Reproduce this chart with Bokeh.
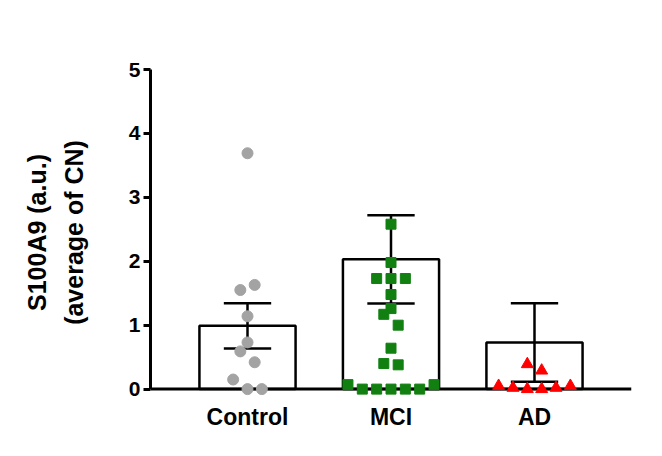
from bokeh.plotting import figure
from bokeh.models import Range1d, FixedTicker, Span
from bokeh.embed import file_html
from bokeh.resources import INLINE

# ---- data ----
categories = ["Control", "MCI", "AD"]
bar_means = [0.99, 2.03, 0.73]
bar_errors = [0.355, 0.69, 0.615]

control_values = [3.69, 1.55, 1.63, 1.14, 0.73, 0.59, 0.42, 0.15, 0.0, 0.0]
control_jitter = [0.0, -0.05, 0.05, 0.0, 0.0, -0.05, 0.05, -0.1, 0.0, 0.1]

mci_values = [2.58, 1.98, 1.73, 1.73, 1.73, 1.48, 1.26, 1.17, 1.0, 0.64, 0.40, 0.38,
              0.07, 0.0, 0.0, 0.0, 0.0, 0.0, 0.07]
mci_jitter = [0.0, 0.0, -0.1, 0.0, 0.1, 0.0, 0.0, -0.05, 0.05, 0.0, -0.05, 0.05,
              -0.3, -0.2, -0.1, 0.0, 0.1, 0.2, 0.3]

ad_values = [0.39, 0.29, 0.05, 0.02, 0.0, 0.0, 0.02, 0.05]
ad_jitter = [-0.05, 0.05, -0.25, -0.15, -0.05, 0.05, 0.15, 0.25]

y_ticks = [0, 1, 2, 3, 4, 5]

FONT = "Liberation Sans"

xpos = list(range(len(categories)))

p = figure(width=646, height=440, output_backend="svg", toolbar_location=None,
           x_range=Range1d(-0.676, 2.676), y_range=Range1d(-0.1, 5.0),
           min_border_left=150, min_border_right=15, min_border_top=69,
           min_border_bottom=45)
p.outline_line_color = None
p.xgrid.visible = False
p.ygrid.visible = False
p.background_fill_color = "white"
p.border_fill_color = "white"

# bars
p.vbar(x=xpos, top=bar_means, width=0.67, bottom=0, fill_color="white",
       line_color="black", line_width=2.5)

# error bars
lo = [m - e for m, e in zip(bar_means, bar_errors)]
hi = [m + e for m, e in zip(bar_means, bar_errors)]
p.segment(x0=xpos, y0=lo, x1=xpos, y1=hi, line_color="black", line_width=2.5)
cap = 0.165
p.segment(x0=[x - cap for x in xpos], y0=hi, x1=[x + cap for x in xpos], y1=hi,
          line_color="black", line_width=2.5)
p.segment(x0=[x - cap for x in xpos], y0=lo, x1=[x + cap for x in xpos], y1=lo,
          line_color="black", line_width=2.5)

# x axis line at zero
p.add_layout(Span(location=0, dimension="width", line_color="black", line_width=3))

# points
r1 = p.scatter(x=[0 + j for j in control_jitter], y=control_values, marker="circle",
               size=11, fill_color="#a3a3a3", line_color="#a3a3a3")
r2 = p.scatter(x=[1 + j for j in mci_jitter], y=mci_values, marker="square",
               size=10, fill_color="#118011", line_color="#118011")
r3 = p.scatter(x=[2 + j for j in ad_jitter], y=ad_values, marker="triangle",
               size=12, fill_color="#ff0000", line_color="#ff0000")
for r in (r1, r2, r3):
    r.level = "overlay"

# x axis (labels only)
xa = p.xaxis[0]
xa.ticker = FixedTicker(ticks=xpos)
xa.major_label_overrides = {i: c for i, c in enumerate(categories)}
xa.axis_line_color = None
xa.major_tick_line_color = None
xa.minor_tick_line_color = None
xa.major_label_text_font = FONT
xa.major_label_text_font_style = "bold"
xa.major_label_text_font_size = "23px"
xa.major_label_text_color = "black"
xa.major_label_standoff = 2

# y axis
ya = p.yaxis[0]
ya.bounds = (0, 5)
ya.ticker = FixedTicker(ticks=y_ticks)
ya.axis_line_width = 3
ya.axis_line_color = "black"
ya.major_tick_line_width = 3
ya.major_tick_out = 7
ya.major_tick_in = 0
ya.minor_tick_line_color = None
ya.major_label_text_font = FONT
ya.major_label_text_font_style = "bold"
ya.major_label_text_font_size = "21px"
ya.major_label_text_color = "black"
ya.major_label_standoff = 3
ya.axis_label = "S100A9 (a.u.)\n(average of CN)"
ya.axis_label_text_font = FONT
ya.axis_label_text_font_style = "bold"
ya.axis_label_text_font_size = "25px"
ya.axis_label_text_line_height = 1.3
ya.axis_label_text_color = "black"
ya.axis_label_standoff = 38

open("out.html", "w").write(file_html(p, INLINE))
